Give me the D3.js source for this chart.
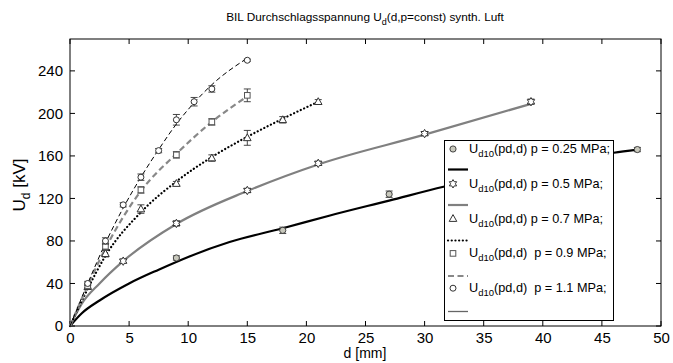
<!DOCTYPE html>
<html><head><meta charset="utf-8">
<script src="https://cdn.jsdelivr.net/npm/d3@7"></script>
<style>body{margin:0;background:#fff}svg{display:block;font-family:"Liberation Sans",Arial,sans-serif}</style>
</head><body><svg id="c" width="673" height="363"></svg>
<script>
// ---- data ----
const xTicks = [0,5,10,15,20,25,30,35,40,45,50];
const yTicks = [0,40,80,120,160,200,240];

const p025_d = [9, 18, 27, 48];
const p025_u = [64, 90, 124, 166];
const p025_e = [2, 3, 3, 2];
const fit025_d = [0, 1, 2.5, 5, 7.5, 10, 13.5, 18, 22, 27, 31.6, 36, 40, 46, 48];
const fit025_u = [0, 12, 24, 40, 53, 65, 79, 92, 104, 118, 131, 142, 151, 163, 166];

const p05_d = [4.5, 9, 15, 21, 30, 39];
const p05_u = [61, 96.5, 127.5, 153, 181, 211];
const p05_e = [2, 2.5, 2, 2, 2, 2.5];
const fit05_d = [0, 1, 2.5, 4.5, 9, 15, 21, 30, 39];
const fit05_u = [0, 21, 40, 61, 96, 127, 152, 180, 209];

const p07_d = [1.5, 3, 6, 9, 12, 15, 18, 21];
const p07_u = [37, 68, 110, 134, 158, 177, 194, 211];
const p07_e = [2, 3, 4, 2, 3, 7, 3, 2];
const fit07_d = [0, 1.5, 3, 6, 9, 12, 15, 18, 21];
const fit07_u = [0, 35, 66, 107, 136, 159, 178, 195, 211];

const p09_d = [1.5, 3, 6, 9, 12, 15];
const p09_u = [38, 75, 128, 161, 192, 217];
const p09_e = [2, 3, 3, 3, 3, 6];
const fit09_d = [0, 1.5, 3, 6, 9, 12, 15];
const fit09_u = [0, 38, 73, 127, 162, 192, 216];

const p11_d = [1.5, 3, 4.5, 6, 7.5, 9, 10.5, 12, 15];
const p11_u = [40, 80, 114, 140, 165, 194, 211, 223, 250];
const p11_e = [2, 3, 2, 3, 2, 5, 4, 3, 1];
const fit11_d = [0, 1.5, 3, 4.5, 6, 7.5, 9, 10.5, 12, 15];
const fit11_u = [0, 40, 78, 111, 140, 166, 190, 210, 227, 252];

const labels = ["0.25", "0.5", "0.7", "0.9", "1.1"];
const labelGap = ["", "", "", " ", " "];

// ---- chart ----
const svg = d3.select("#c");
const L = 70, R = 661, T = 39, B = 326;
const x = d3.scaleLinear().domain([0,50]).range([L,R]);
const y = d3.scaleLinear().domain([0,270]).range([B,T]);

const zip = (a,b,e)=>a.map((v,i)=>({d:v,u:b[i],e:e?e[i]:0}));
const series = [
  {pts:zip(p025_d,p025_u,p025_e), fit:zip(fit025_d,fit025_u), color:"#000", w:2.2, dash:null, cap:"butt", marker:"circleFill", legColor:"#000", legW:2.2, legDash:null},
  {pts:zip(p05_d,p05_u,p05_e), fit:zip(fit05_d,fit05_u), color:"#808080", w:2.2, dash:null, cap:"butt", marker:"hex", legColor:"#808080", legW:2.2, legDash:null},
  {pts:zip(p07_d,p07_u,p07_e), fit:zip(fit07_d,fit07_u), color:"#000", w:2.2, dash:"0.1,3.6", cap:"round", marker:"tri", legColor:"#000", legW:2.2, legDash:"0.1,3.6"},
  {pts:zip(p09_d,p09_u,p09_e), fit:zip(fit09_d,fit09_u), color:"#888", w:2.2, dash:"6,3.5", cap:"butt", marker:"sq", legColor:"#888", legW:2.2, legDash:"6,3.5"},
  {pts:zip(p11_d,p11_u,p11_e), fit:zip(fit11_d,fit11_u), color:"#000", w:1, dash:"5,3", cap:"butt", marker:"circ", legColor:"#666", legW:1.3, legDash:null}
];

function hexPath(r){
  let p=[];
  for(let i=0;i<12;i++){
    const a=-Math.PI/2+i*Math.PI/6;
    const rr=(i%2===0)?r:r/Math.sqrt(3);
    p.push([rr*Math.cos(a),rr*Math.sin(a)]);
  }
  return "M"+p.map(q=>q[0].toFixed(2)+","+q[1].toFixed(2)).join("L")+"Z";
}
function drawMarker(g,type,cx,cy){
  if(type==="circleFill") g.append("circle").attr("cx",cx).attr("cy",cy).attr("r",3.1).attr("fill","#c8c8bc").attr("stroke","#333").attr("stroke-width",0.9);
  else if(type==="hex") g.append("path").attr("d",hexPath(4.2)).attr("transform",`translate(${cx},${cy})`).attr("fill","#fff").attr("stroke","#333").attr("stroke-width",1);
  else if(type==="tri") g.append("path").attr("d","M0,-4L3.8,2.8L-3.8,2.8Z").attr("transform",`translate(${cx},${cy})`).attr("fill","#fff").attr("stroke","#333").attr("stroke-width",1);
  else if(type==="sq") g.append("rect").attr("x",cx-2.8).attr("y",cy-2.8).attr("width",5.6).attr("height",5.6).attr("fill","#fff").attr("stroke","#555").attr("stroke-width",1);
  else if(type==="circ") g.append("circle").attr("cx",cx).attr("cy",cy).attr("r",3).attr("fill","#fff").attr("stroke","#333").attr("stroke-width",1);
}

// frame
svg.append("rect").attr("x",L).attr("y",T).attr("width",R-L).attr("height",B-T).attr("fill","#fff").attr("stroke","#000").attr("stroke-width",1);

// ticks (inward, mirrored)
const tk = svg.append("g").attr("stroke","#000").attr("stroke-width",1);
xTicks.forEach(t=>{
  tk.append("line").attr("x1",x(t)).attr("x2",x(t)).attr("y1",B).attr("y2",B-5);
  tk.append("line").attr("x1",x(t)).attr("x2",x(t)).attr("y1",T).attr("y2",T+5);
});
yTicks.forEach(t=>{
  tk.append("line").attr("x1",L).attr("x2",L+5).attr("y1",y(t)).attr("y2",y(t));
  tk.append("line").attr("x1",R).attr("x2",R-5).attr("y1",y(t)).attr("y2",y(t));
});
const xa = svg.append("g").attr("transform",`translate(0,${B})`).call(d3.axisBottom(x).tickValues(xTicks).tickSize(0).tickPadding(6));
xa.select(".domain").remove();
xa.selectAll("text").attr("font-size",15).attr("font-family","Liberation Sans, Arial, sans-serif").attr("fill","#000");
const ya = svg.append("g").attr("transform",`translate(${L},0)`).call(d3.axisLeft(y).tickValues(yTicks).tickSize(0).tickPadding(7));
ya.select(".domain").remove();
ya.selectAll("text").attr("font-size",15).attr("font-family","Liberation Sans, Arial, sans-serif").attr("fill","#000");

// curves
const line = d3.line().x(d=>x(d.d)).y(d=>y(d.u)).curve(d3.curveMonotoneX);
series.forEach(s=>{
  svg.append("path").attr("d",line(s.fit)).attr("fill","none").attr("stroke",s.color)
    .attr("stroke-width",s.w).attr("stroke-dasharray",s.dash).attr("stroke-linecap",s.cap);
});
// error bars + markers
series.forEach(s=>{
  const g = svg.append("g");
  s.pts.forEach(p=>{
    const cx=x(p.d), y1=y(p.u+p.e), y2=y(p.u-p.e);
    g.append("line").attr("x1",cx).attr("x2",cx).attr("y1",y1).attr("y2",y2).attr("stroke","#333").attr("stroke-width",0.9);
    g.append("line").attr("x1",cx-3.5).attr("x2",cx+3.5).attr("y1",y1).attr("y2",y1).attr("stroke","#333").attr("stroke-width",0.9);
    g.append("line").attr("x1",cx-3.5).attr("x2",cx+3.5).attr("y1",y2).attr("y2",y2).attr("stroke","#333").attr("stroke-width",0.9);
    drawMarker(g,s.marker,cx,y(p.u));
  });
});

// legend
const lg = svg.append("g");
lg.append("rect").attr("x",444.5).attr("y",140.5).attr("width",169).attr("height",180).attr("fill","#fff").attr("stroke","#000").attr("stroke-width",1);
series.forEach((s,i)=>{
  const ty = 153 + i*34.8, ly = 169.5 + i*35.5;
  drawMarker(lg,s.marker,453,ty-4);
  const t = lg.append("text").attr("x",469).attr("y",ty).attr("font-size",12.7).attr("fill","#000").style("white-space","pre");
  t.append("tspan").text("U");
  t.append("tspan").attr("dy",4).attr("font-size",9.5).text("d10");
  t.append("tspan").attr("dy",-4).text("(pd,d)" + labelGap[i] + " p = " + labels[i] + " MPa;");
  lg.append("line").attr("x1",448).attr("x2",468).attr("y1",ly).attr("y2",ly).attr("stroke",s.legColor)
    .attr("stroke-width",s.legW).attr("stroke-dasharray",s.legDash).attr("stroke-linecap",s.cap);
});

// title & labels
const tt = svg.append("text").attr("x",365).attr("y",21).attr("text-anchor","middle").attr("font-size",11.8).attr("fill","#000");
tt.append("tspan").text("BIL Durchschlagsspannung U");
tt.append("tspan").attr("dy",3.5).attr("font-size",9).text("d");
tt.append("tspan").attr("dy",-3.5).text("(d,p=const) synth. Luft");

const xl = svg.append("text").attr("x",365).attr("y",358).attr("text-anchor","middle").attr("font-size",14).attr("fill","#000").text("d [mm]");
const yl = svg.append("text").attr("transform","translate(25,185) rotate(-90)").attr("text-anchor","middle").attr("font-size",17).attr("fill","#000");
yl.append("tspan").text("U");
yl.append("tspan").attr("dy",5).attr("font-size",12).text("d");
yl.append("tspan").attr("dy",-5).text(" [kV]");
</script></body></html>
